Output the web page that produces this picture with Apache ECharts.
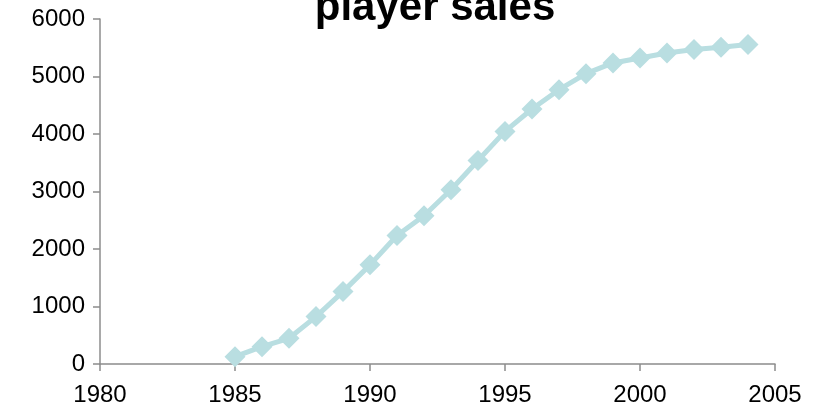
<!DOCTYPE html>
<html>
<head>
<meta charset="utf-8">
<script src="https://cdn.jsdelivr.net/npm/echarts@6/dist/echarts.min.js"></script>
<style>
  html, body { margin: 0; padding: 0; background: #fff; }
  #chart { width: 819px; height: 411px; }
</style>
</head>
<body>
<div id="chart"></div>
<script>
// Unit sales by year
const years = [1985, 1986, 1987, 1988, 1989, 1990, 1991, 1992, 1993, 1994,
               1995, 1996, 1997, 1998, 1999, 2000, 2001, 2002, 2003, 2004];
const sales = [127, 301, 447, 824, 1259, 1724, 2234, 2577, 3030, 3540,
               4045, 4435, 4771, 5050, 5236, 5323, 5410, 5468, 5508, 5555];
const titleText = 'player sales';

const chart = echarts.init(document.getElementById('chart'), null, { renderer: 'canvas' });

const axisStyle = { lineStyle: { color: '#8c8c8c', width: 1.5 } };
const font = 'Liberation Sans, Arial, sans-serif';
const plain = v => String(v);

chart.setOption({
  animation: false,
  backgroundColor: '#ffffff',
  title: {
    text: titleText,
    left: 430,
    textAlign: 'center',
    top: -18,
    textStyle: { fontFamily: font, fontWeight: 'bold', fontSize: 42, color: '#000' }
  },
  grid: { left: 100, right: 44, top: 19, bottom: 47, containLabel: false },
  xAxis: {
    type: 'value',
    min: 1980, max: 2005, interval: 5,
    axisLine: { show: true, ...axisStyle },
    axisTick: { show: true, length: 7, ...axisStyle },
    splitLine: { show: false },
    axisLabel: { color: '#000', fontSize: 24, fontFamily: font, margin: 19, formatter: plain }
  },
  yAxis: {
    type: 'value',
    min: 0, max: 6000, interval: 1000,
    axisLine: { show: true, ...axisStyle },
    axisTick: { show: true, length: 7, ...axisStyle },
    splitLine: { show: false },
    axisLabel: { color: '#000', fontSize: 24, fontFamily: font, margin: 15, formatter: plain }
  },
  series: [{
    type: 'line',
    data: years.map((y, i) => [y, sales[i]]),
    symbol: 'diamond',
    symbolSize: 21,
    lineStyle: { color: '#b9dee1', width: 5 },
    itemStyle: { color: '#b9dee1' }
  }]
});
</script>
</body>
</html>
